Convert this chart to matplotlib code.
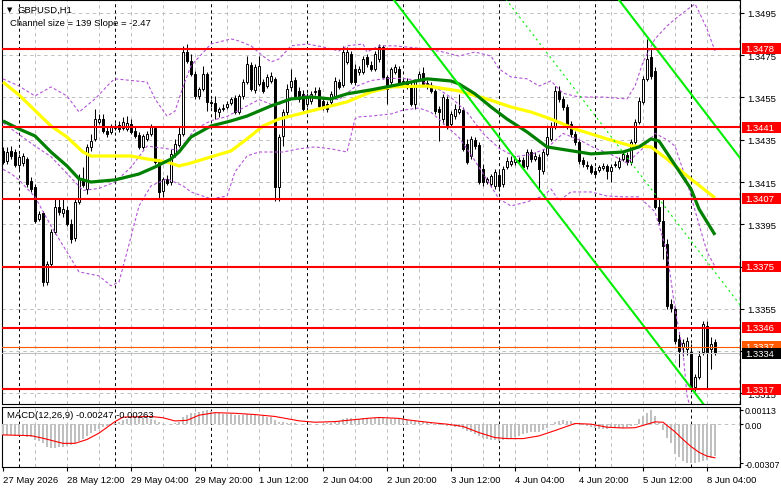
import numpy as np
import matplotlib
matplotlib.use("Agg")
import matplotlib.pyplot as plt
from matplotlib.patches import Rectangle
from matplotlib.transforms import blended_transform_factory

plt.rcParams['font.family'] = ['Liberation Sans', 'DejaVu Sans']
plt.rcParams['lines.scale_dashes'] = False

# GBPUSD H1 candles, one per hour from 27 May 20:00 to 8 Jun 06:00
opens = [
    1.34297, 1.34250, 1.34297, 1.34292, 1.34231, 1.34240, 1.34259, 1.34155, 1.34127, 1.33975,
    1.34004, 1.33677, 1.33763, 1.33914, 1.34032, 1.34004, 1.34018, 1.33952, 1.33886, 1.34056,
    1.34165, 1.34117, 1.34316, 1.34354, 1.34434, 1.34448, 1.34392, 1.34387, 1.34406, 1.34420,
    1.34406, 1.34401, 1.34425, 1.34392, 1.34373, 1.34316, 1.34354, 1.34377, 1.34406, 1.34245,
    1.34108, 1.34165, 1.34150, 1.34278, 1.34325, 1.34377, 1.34765, 1.34723, 1.34661, 1.34557,
    1.34590, 1.34661, 1.34529, 1.34524, 1.34481, 1.34496, 1.34505, 1.34524, 1.34548, 1.34481,
    1.34557, 1.34623, 1.34704, 1.34586, 1.34614, 1.34623, 1.34604, 1.34628, 1.34638, 1.34127,
    1.34368, 1.34481, 1.34600, 1.34633, 1.34581, 1.34567, 1.34519, 1.34534, 1.34576, 1.34586,
    1.34534, 1.34519, 1.34529, 1.34557, 1.34623, 1.34609, 1.34718, 1.34756, 1.34685, 1.34671,
    1.34671, 1.34742, 1.34704, 1.34685, 1.34732, 1.34789, 1.34647, 1.34623, 1.34671, 1.34685,
    1.34619, 1.34628, 1.34609, 1.34519, 1.34638, 1.34666, 1.34619, 1.34609, 1.34581, 1.34496,
    1.34448, 1.34543, 1.34425, 1.34462, 1.34481, 1.34491, 1.34330, 1.34273, 1.34349, 1.34325,
    1.34212, 1.34150, 1.34141, 1.34132, 1.34184, 1.34141, 1.34221, 1.34236, 1.34245, 1.34250,
    1.34254, 1.34226, 1.34292, 1.34259, 1.34269, 1.34202, 1.34283, 1.34354, 1.34411, 1.34581,
    1.34543, 1.34505, 1.34425, 1.34377, 1.34340, 1.34254, 1.34231, 1.34226, 1.34202, 1.34207,
    1.34217, 1.34226, 1.34202, 1.34231, 1.34221, 1.34259, 1.34278, 1.34245, 1.34340, 1.34434,
    1.34529, 1.34638, 1.34742, 1.34675, 1.34032, 1.33966, 1.33857, 1.33573, 1.33550, 1.33408,
    1.33370, 1.33360, 1.33346, 1.33181, 1.33228, 1.33346, 1.33469, 1.33360, 1.33394,
]
highs = [
    1.34316, 1.34316, 1.34321, 1.34307, 1.34283, 1.34288, 1.34269, 1.34174, 1.34141, 1.34013,
    1.34013, 1.33777, 1.33928, 1.34070, 1.34070, 1.34070, 1.34037, 1.33975, 1.34070, 1.34188,
    1.34221, 1.34330, 1.34377, 1.34496, 1.34472, 1.34472, 1.34415, 1.34425, 1.34429, 1.34439,
    1.34458, 1.34462, 1.34448, 1.34411, 1.34387, 1.34377, 1.34392, 1.34425, 1.34415, 1.34259,
    1.34174, 1.34184, 1.34307, 1.34354, 1.34411, 1.34794, 1.34803, 1.34756, 1.34675, 1.34600,
    1.34699, 1.34671, 1.34543, 1.34557, 1.34505, 1.34519, 1.34534, 1.34552, 1.34562, 1.34567,
    1.34638, 1.34746, 1.34718, 1.34709, 1.34746, 1.34638, 1.34661, 1.34671, 1.34647, 1.34377,
    1.34496, 1.34614, 1.34685, 1.34647, 1.34600, 1.34586, 1.34571, 1.34581, 1.34600, 1.34600,
    1.34548, 1.34534, 1.34581, 1.34647, 1.34638, 1.34794, 1.34789, 1.34770, 1.34709, 1.34699,
    1.34746, 1.34756, 1.34723, 1.34770, 1.34803, 1.34798, 1.34657, 1.34694, 1.34709, 1.34699,
    1.34638, 1.34642, 1.34623, 1.34638, 1.34675, 1.34694, 1.34633, 1.34623, 1.34590, 1.34510,
    1.34567, 1.34557, 1.34486, 1.34519, 1.34567, 1.34505, 1.34354, 1.34368, 1.34363, 1.34340,
    1.34236, 1.34174, 1.34188, 1.34212, 1.34202, 1.34226, 1.34269, 1.34273, 1.34273, 1.34269,
    1.34269, 1.34307, 1.34307, 1.34292, 1.34283, 1.34307, 1.34411, 1.34434, 1.34604, 1.34604,
    1.34557, 1.34519, 1.34439, 1.34392, 1.34354, 1.34269, 1.34250, 1.34236, 1.34221, 1.34231,
    1.34240, 1.34236, 1.34236, 1.34250, 1.34269, 1.34297, 1.34292, 1.34354, 1.34448, 1.34552,
    1.34652, 1.34827, 1.34779, 1.34694, 1.34070, 1.34070, 1.33881, 1.33597, 1.33559, 1.33431,
    1.33408, 1.33417, 1.33384, 1.33242, 1.33351, 1.33493, 1.33493, 1.33417, 1.33408,
]
lows = [
    1.34236, 1.34236, 1.34259, 1.34221, 1.34212, 1.34226, 1.34127, 1.34103, 1.33956, 1.33966,
    1.33659, 1.33663, 1.33753, 1.33904, 1.33994, 1.33985, 1.33942, 1.33862, 1.33871, 1.34046,
    1.34127, 1.34094, 1.34297, 1.34344, 1.34425, 1.34382, 1.34363, 1.34377, 1.34396, 1.34387,
    1.34396, 1.34392, 1.34377, 1.34359, 1.34307, 1.34307, 1.34344, 1.34368, 1.34236, 1.34070,
    1.34079, 1.34136, 1.34136, 1.34269, 1.34316, 1.34368, 1.34713, 1.34652, 1.34543, 1.34543,
    1.34581, 1.34486, 1.34505, 1.34448, 1.34458, 1.34486, 1.34496, 1.34515, 1.34472, 1.34472,
    1.34543, 1.34614, 1.34581, 1.34571, 1.34604, 1.34571, 1.34595, 1.34619, 1.34061, 1.34061,
    1.34321, 1.34458, 1.34581, 1.34548, 1.34529, 1.34486, 1.34505, 1.34519, 1.34562, 1.34496,
    1.34491, 1.34481, 1.34515, 1.34548, 1.34590, 1.34600, 1.34709, 1.34614, 1.34609, 1.34657,
    1.34661, 1.34694, 1.34675, 1.34675, 1.34718, 1.34638, 1.34519, 1.34609, 1.34661, 1.34600,
    1.34609, 1.34590, 1.34510, 1.34496, 1.34628, 1.34604, 1.34590, 1.34571, 1.34472, 1.34344,
    1.34425, 1.34401, 1.34415, 1.34448, 1.34472, 1.34297, 1.34236, 1.34259, 1.34307, 1.34141,
    1.34132, 1.34141, 1.34127, 1.34117, 1.34108, 1.34127, 1.34212, 1.34226, 1.34231, 1.34236,
    1.34212, 1.34212, 1.34245, 1.34250, 1.34108, 1.34188, 1.34273, 1.34344, 1.34401, 1.34529,
    1.34491, 1.34401, 1.34363, 1.34325, 1.34236, 1.34221, 1.34212, 1.34188, 1.34174, 1.34198,
    1.34207, 1.34165, 1.34150, 1.34221, 1.34212, 1.34250, 1.34231, 1.34231, 1.34330, 1.34425,
    1.34519, 1.34628, 1.34638, 1.34023, 1.33952, 1.33786, 1.33550, 1.33535, 1.33384, 1.33275,
    1.33327, 1.33332, 1.33171, 1.33162, 1.33219, 1.33332, 1.33171, 1.33266, 1.33332,
]
closes = [
    1.34245, 1.34292, 1.34273, 1.34231, 1.34269, 1.34273, 1.34141, 1.34117, 1.33966, 1.33999,
    1.33677, 1.33763, 1.33914, 1.34032, 1.34009, 1.34023, 1.33952, 1.33881, 1.34056, 1.34165,
    1.34136, 1.34316, 1.34344, 1.34448, 1.34448, 1.34392, 1.34377, 1.34411, 1.34415, 1.34401,
    1.34434, 1.34429, 1.34387, 1.34368, 1.34316, 1.34368, 1.34377, 1.34411, 1.34245, 1.34103,
    1.34165, 1.34146, 1.34283, 1.34330, 1.34377, 1.34765, 1.34723, 1.34661, 1.34557, 1.34590,
    1.34661, 1.34529, 1.34524, 1.34486, 1.34496, 1.34501, 1.34519, 1.34543, 1.34481, 1.34557,
    1.34623, 1.34709, 1.34590, 1.34694, 1.34699, 1.34581, 1.34647, 1.34652, 1.34127, 1.34363,
    1.34481, 1.34590, 1.34628, 1.34557, 1.34543, 1.34496, 1.34557, 1.34567, 1.34581, 1.34510,
    1.34505, 1.34496, 1.34567, 1.34628, 1.34600, 1.34765, 1.34765, 1.34623, 1.34623, 1.34685,
    1.34732, 1.34709, 1.34685, 1.34756, 1.34789, 1.34647, 1.34590, 1.34685, 1.34694, 1.34614,
    1.34628, 1.34600, 1.34519, 1.34628, 1.34661, 1.34614, 1.34604, 1.34581, 1.34486, 1.34481,
    1.34552, 1.34411, 1.34472, 1.34496, 1.34496, 1.34307, 1.34245, 1.34354, 1.34321, 1.34150,
    1.34150, 1.34165, 1.34179, 1.34198, 1.34132, 1.34212, 1.34250, 1.34250, 1.34259, 1.34254,
    1.34221, 1.34292, 1.34259, 1.34273, 1.34212, 1.34292, 1.34363, 1.34415, 1.34581, 1.34543,
    1.34505, 1.34415, 1.34377, 1.34340, 1.34250, 1.34236, 1.34226, 1.34198, 1.34188, 1.34221,
    1.34226, 1.34202, 1.34221, 1.34236, 1.34250, 1.34283, 1.34245, 1.34340, 1.34434, 1.34534,
    1.34638, 1.34732, 1.34652, 1.34032, 1.33966, 1.33848, 1.33564, 1.33554, 1.33398, 1.33351,
    1.33389, 1.33398, 1.33181, 1.33228, 1.33327, 1.33479, 1.33346, 1.33384, 1.33340,
]

# moving averages, read at bar positions
ma_yellow_bars = [0, 4, 12, 16, 20, 22, 32, 36, 41, 44, 47, 52, 57, 61, 65, 69, 77, 86, 92, 97,
                  106, 114, 121, 127, 132, 137, 143, 151, 157, 162, 166, 171, 178]
ma_yellow = [1.34623, 1.34562, 1.34415, 1.34363, 1.34292, 1.34273, 1.34273, 1.34259, 1.34245,
             1.34226, 1.34240, 1.34269, 1.34297, 1.34354, 1.34415, 1.34448, 1.34486, 1.34529,
             1.34576, 1.34600, 1.34604, 1.34581, 1.34543, 1.34505, 1.34481, 1.34448, 1.34401,
             1.34354, 1.34321, 1.34316, 1.34259, 1.34179, 1.34075]
ma_green_bars = [0, 4, 8, 12, 16, 19, 22, 28, 34, 38, 42, 44, 47, 52, 57, 61, 67, 72, 77, 82,
                 86, 92, 97, 106, 112, 114, 118, 122, 126, 131, 136, 139, 147, 155, 159, 162,
                 164, 167, 172, 174, 178]
ma_green = [1.34439, 1.34401, 1.34368, 1.34292, 1.34226, 1.34165, 1.34150, 1.34160, 1.34188,
            1.34221, 1.34259, 1.34292, 1.34363, 1.34415, 1.34439, 1.34462, 1.34510, 1.34543,
            1.34552, 1.34543, 1.34567, 1.34586, 1.34604, 1.34638, 1.34628, 1.34614, 1.34567,
            1.34505, 1.34448, 1.34387, 1.34316, 1.34307, 1.34283, 1.34292, 1.34316, 1.34354,
            1.34344, 1.34259, 1.34117, 1.34023, 1.33900]

# bollinger bands
bb_up_bars = [0, 4, 8, 12, 16, 19, 23, 27, 28, 36, 38, 41, 43, 45, 47, 52, 57, 59, 62, 65, 67,
              69, 72, 76, 80, 84, 86, 90, 91, 94, 98, 106, 110, 114, 118, 122, 124, 127, 131,
              134, 137, 140, 144, 150, 156, 158, 160, 163, 166, 168, 171, 173, 174, 176, 178]
bb_up = [1.34638, 1.34604, 1.34557, 1.34600, 1.34557, 1.34481, 1.34543, 1.34623, 1.34638,
         1.34623, 1.34543, 1.34462, 1.34485, 1.34600, 1.34700, 1.34803, 1.34827, 1.34817,
         1.34794, 1.34746, 1.34718, 1.34732, 1.34794, 1.34803, 1.34789, 1.34770, 1.34794,
         1.34803, 1.34765, 1.34794, 1.34794, 1.34779, 1.34765, 1.34746, 1.34765, 1.34746,
         1.34685, 1.34647, 1.34638, 1.34604, 1.34628, 1.34570, 1.34552, 1.34552, 1.34543,
         1.34604, 1.34718, 1.34827, 1.34888, 1.34921, 1.34965, 1.34992, 1.34955, 1.34874,
         1.34770]
bb_mid_bars = [0, 8, 12, 16, 20, 24, 28, 32, 36, 40, 44, 48, 52, 56, 60, 64, 68, 72, 76, 80,
               84, 88, 92, 96, 100, 104, 108, 112, 116, 120, 124, 128, 132, 136, 140, 144, 148,
               152, 156, 160, 163, 166, 168, 171, 174, 176, 178]
bb_mid = [1.34430, 1.34320, 1.34270, 1.34190, 1.34110, 1.34120, 1.34150, 1.34220, 1.34320,
          1.34310, 1.34300, 1.34400, 1.34440, 1.34460, 1.34500, 1.34540, 1.34510, 1.34540,
          1.34560, 1.34550, 1.34540, 1.34600, 1.34630, 1.34640, 1.34640, 1.34630, 1.34600,
          1.34550, 1.34480, 1.34380, 1.34310, 1.34270, 1.34280, 1.34310, 1.34380, 1.34350,
          1.34310, 1.34280, 1.34240, 1.34310, 1.34380, 1.34350, 1.34320, 1.34150, 1.33950,
          1.33820, 1.33750]
bb_low_bars = [0, 2, 4, 8, 12, 16, 19, 24, 27, 29, 31, 34, 37, 41, 45, 47, 52, 56, 58, 61, 64,
               70, 74, 78, 82, 86, 88, 89, 92, 97, 100, 104, 107, 110, 114, 117, 121, 124, 127,
               131, 135, 137, 139, 142, 147, 151, 155, 159, 163, 166, 168, 170, 171, 173, 176,
               178]
bb_low = [1.34210, 1.34190, 1.34160, 1.34080, 1.33942, 1.33819, 1.33725, 1.33706, 1.33659,
          1.33677, 1.33819, 1.34037, 1.34132, 1.34165, 1.34132, 1.34103, 1.34070, 1.34084,
          1.34198, 1.34273, 1.34292, 1.34292, 1.34307, 1.34316, 1.34307, 1.34292, 1.34448,
          1.34458, 1.34462, 1.34472, 1.34490, 1.34500, 1.34480, 1.34430, 1.34360, 1.34280,
          1.34160, 1.34070, 1.34037, 1.34056, 1.34084, 1.34117, 1.34061, 1.34103, 1.34103,
          1.34084, 1.34080, 1.34080, 1.34009, 1.33819, 1.33550, 1.33346, 1.33140, 1.33000,
          1.32970, 1.33000]

# support / resistance levels drawn on the chart
levels = [1.3478, 1.3441, 1.3407, 1.3375, 1.3346, 1.3317]
ask_line = 1.3337
bid_line = 1.3334

# regression channel from the chart header
channel_size = 139    # pips
channel_slope = -2.47  # pips per bar
channel_anchor_bar = 120
channel_anchor_price = 1.34461

# MACD(12,26,9)
macd_hist = [
    -0.00084, -0.00086, -0.00088, -0.00090, -0.00094, -0.00096, -0.00098, -0.00100, -0.00120, -0.00135,
    -0.00150, -0.00180, -0.00190, -0.00188, -0.00180, -0.00175, -0.00170, -0.00160, -0.00150, -0.00135,
    -0.00115, -0.00090, -0.00070, -0.00050, -0.00035, -0.00025, -0.00015, -0.00008, 0.00010, 0.00020,
    0.00032, 0.00040, 0.00046, 0.00050, 0.00050, 0.00048, 0.00046, 0.00044, 0.00035, 0.00018,
    0.00005, 0.00002, 0.00005, 0.00010, 0.00018, 0.00055, 0.00075, 0.00085, 0.00090, 0.00095,
    0.00105, 0.00110, 0.00100, 0.00090, 0.00085, 0.00082, 0.00080, 0.00078, 0.00075, 0.00072,
    0.00075, 0.00078, 0.00072, 0.00068, 0.00066, 0.00060, 0.00058, 0.00055, 0.00035, 0.00020,
    0.00015, 0.00012, 0.00010, 0.00008, 0.00005, 0.00002, 0.00000, -0.00002, 0.00002, 0.00003,
    0.00005, 0.00008, 0.00012, 0.00018, 0.00025, 0.00040, 0.00048, 0.00045, 0.00042, 0.00042,
    0.00045, 0.00045, 0.00044, 0.00047, 0.00050, 0.00048, 0.00042, 0.00040, 0.00042, 0.00040,
    0.00038, 0.00035, 0.00028, 0.00025, 0.00024, 0.00020, 0.00016, 0.00012, 0.00005, -0.00005,
    -0.00008, -0.00015, -0.00018, -0.00022, -0.00025, -0.00040, -0.00055, -0.00065, -0.00075, -0.00090,
    -0.00105, -0.00115, -0.00120, -0.00125, -0.00128, -0.00125, -0.00118, -0.00110, -0.00100, -0.00090,
    -0.00080, -0.00070, -0.00065, -0.00060, -0.00058, -0.00045, -0.00030, -0.00010, 0.00015, 0.00028,
    0.00030, 0.00028, 0.00022, 0.00012, 0.00002, -0.00010, -0.00018, -0.00025, -0.00032, -0.00035,
    -0.00035, -0.00035, -0.00033, -0.00032, -0.00030, -0.00028, -0.00025, -0.00015, -0.00005, 0.00040,
    0.00065, 0.00090, 0.00113, 0.00060, 0.00010, -0.00045, -0.00110, -0.00145, -0.00230, -0.00260,
    -0.00285, -0.00300, -0.00307, -0.00305, -0.00295, -0.00285, -0.00278, -0.00265, -0.00247,
]
signal_bars = [0, 7, 10, 15, 18, 21, 24, 28, 30, 37, 40, 43, 46, 49, 53, 58, 63, 68, 74, 78, 83,
               91, 94, 99, 101, 107, 111, 115, 119, 123, 126, 130, 134, 138, 143, 147, 151, 155,
               158, 160, 163, 165, 168, 170, 172, 174, 176, 178]
signal = [-0.00084, -0.00090, -0.00110, -0.00150, -0.00150, -0.00120, -0.00070, 0.00020, 0.00055,
          0.00060, 0.00050, 0.00025, 0.00030, 0.00070, 0.00090, 0.00085, 0.00075, 0.00060, 0.00026,
          0.00015, 0.00020, 0.00045, 0.00052, 0.00045, 0.00034, 0.00012, 0.00000, -0.00018,
          -0.00066, -0.00105, -0.00113, -0.00113, -0.00092, -0.00050, 0.00005, 0.00000, -0.00024,
          -0.00030, -0.00028, -0.00010, 0.00018, 0.00015, -0.00060, -0.00120, -0.00175, -0.00220,
          -0.00250, -0.00263]

price_ticks = [1.3315, 1.3335, 1.3355, 1.3375, 1.3395, 1.3415, 1.3435, 1.3455, 1.3475, 1.3495]
macd_ticks = [0.00113, 0.0, -0.00307]
macd_tick_labels = ["0.00113", "0.00", "-0.00307"]
time_label_bars = [0, 16, 32, 48, 64, 80, 96, 112, 128, 144, 160, 176]
time_labels = ["27 May 2026", "28 May 12:00", "29 May 04:00", "29 May 20:00", "1 Jun 12:00",
               "2 Jun 04:00", "2 Jun 20:00", "3 Jun 12:00", "4 Jun 04:00", "4 Jun 20:00",
               "5 Jun 12:00", "8 Jun 04:00"]
day_start_bars = [4, 28, 52, 76, 100, 124, 148, 172]

W, H = 781, 489
FS = 6.8
fig = plt.figure(figsize=(W / 100, H / 100), dpi=100)
fig.patch.set_facecolor("white")


def fx(px):
    return px / W


def fy(py):
    return 1 - py / H


ax = fig.add_axes([fx(2), fy(405), fx(740) - fx(2), fy(1) - fy(405)])
mx = fig.add_axes([fx(2), fy(468), fx(740) - fx(2), fy(407.5) - fy(468)])

o = np.array(opens)
h = np.array(highs)
l = np.array(lows)
c = np.array(closes)
x = np.arange(len(c))

for a in (ax, mx):
    a.set_xlim(-0.25, 184.25)
    for s in a.spines.values():
        s.set_linewidth(0.8)
        s.set_color("black")
    # grid every 8 bars + day separators
    for b in range(8, 185, 8):
        a.axvline(b, color="#c0c0c0", lw=0.7, ls=(0, (2.5, 2.5)), zorder=1)
    for b in day_start_bars:
        a.axvline(b, color="black", lw=0.7, ls=(0, (2.2, 2.2)), zorder=1.5)

ax.set_ylim(1.33100, 1.35011)
for p in price_ticks:
    ax.axhline(p, color="#c0c0c0", lw=0.7, ls=(0, (2.5, 2.5)), zorder=1)

# candles
up = c >= o
ax.vlines(x, l, h, color="black", lw=0.75, zorder=4)
ax.bar(x[up], (c - o)[up], bottom=o[up], width=0.58, color="white", edgecolor="black", lw=0.7, zorder=5)
ax.bar(x[~up], (o - c)[~up], bottom=c[~up], width=0.58, color="black", edgecolor="black", lw=0.7, zorder=5)

# indicators
band_style = dict(color="#b455d8", lw=0.8, ls=(0, (2.2, 1.6)), zorder=6)
ax.plot(bb_up_bars, bb_up, **band_style)
ax.plot(bb_mid_bars, bb_mid, **band_style)
ax.plot(bb_low_bars, bb_low, **band_style)
ax.plot(ma_yellow_bars, ma_yellow, color="#ffff00", lw=2.3, zorder=6.5, solid_capstyle="butt")
ax.plot(ma_green_bars, ma_green, color="#008000", lw=2.3, zorder=6.6, solid_capstyle="butt")

# channel lines
cb = np.array([90, 186])
lower = channel_anchor_price + channel_slope / 10000 * (cb - channel_anchor_bar)
ax.plot(cb, lower, color="#00ee00", lw=1.5, zorder=7)
ax.plot(cb, lower + channel_size / 10000, color="#00ee00", lw=1.5, zorder=7)
ax.plot(cb, lower + channel_size / 20000, color="#00ee00", lw=0.8, ls=(0, (1.5, 2.5)), zorder=7)

# levels
for lv in levels:
    ax.axhline(lv, color="#ff0000", lw=1.5, zorder=8)
ax.axhline(ask_line, color="#ff5a00", lw=0.8, zorder=8)
ax.axhline(bid_line, color="#c0c0c0", lw=0.8, zorder=7.5)

# right price axis
ax.yaxis.tick_right()
ax.set_yticks(price_ticks)
ax.set_yticklabels([f"{p:.4f}" for p in price_ticks], fontsize=FS)
ax.tick_params(axis="y", length=3, width=0.8, pad=2, colors="black")
ax.set_xticks([])

tr = blended_transform_factory(fig.transFigure, ax.transData)


def price_tag(value, text, bg, z):
    ax.add_patch(Rectangle((fx(742), value - 0.00026), fx(781) - fx(742), 0.00052,
                           transform=tr, facecolor=bg, edgecolor="none", clip_on=False, zorder=z))
    ax.text(fx(745.5), value, text, transform=tr, color="white", fontsize=FS,
            va="center", ha="left", clip_on=False, zorder=z + 0.1)


for lv in levels:
    price_tag(lv, f"{lv:.4f}", "#ff0000", 20)
price_tag(ask_line, f"{ask_line:.4f}", "#ff5a00", 21)
price_tag(bid_line, f"{bid_line:.4f}", "black", 22)

# MACD panel
mx.set_ylim(-0.00335, 0.00138)
mx.axhline(0, color="#c0c0c0", lw=0.7, ls=(0, (2.5, 2.5)), zorder=1)
mx.bar(x, macd_hist, width=0.5, color="#c0c0c0", zorder=3)
mx.plot(signal_bars, signal, color="#ff0000", lw=0.8, zorder=4)
mx.yaxis.tick_right()
mx.set_yticks(macd_ticks)
mx.set_yticklabels(macd_tick_labels, fontsize=6.4)
mx.tick_params(axis="y", length=2.5, width=0.8, pad=0.6, colors="black")
mx.set_xticks(time_label_bars)
mx.set_xticklabels(time_labels, fontsize=FS)
for t in mx.get_xticklabels():
    t.set_ha("left")
mx.tick_params(axis="x", length=3, width=0.8, pad=2.5, colors="black")

# header texts
fig.text(fx(7), fy(10.5), "\u25bc", fontsize=5, family="DejaVu Sans", va="center", ha="left")
fig.text(fx(18), fy(10.5), "GBPUSD,H1", fontsize=FS, va="center", ha="left")
fig.text(fx(10.5), fy(24), "Channel size = 139 Slope = -2.47", fontsize=FS, va="center", ha="left")
fig.text(fx(7), fy(416), "MACD(12,26,9) -0.00247 -0.00263", fontsize=FS, va="center", ha="left")

fig.savefig("out.png", dpi=100, facecolor="white")
